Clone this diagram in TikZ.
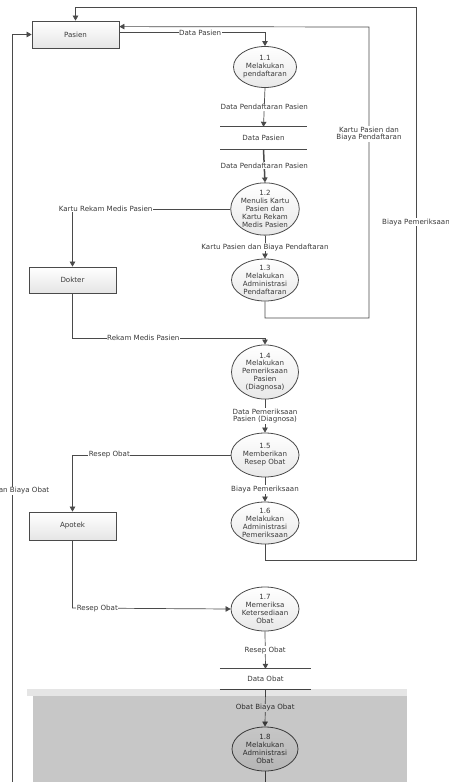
\documentclass[tikz,border=0pt]{standalone}
\usepackage{fontspec}
\setmainfont{DejaVu Sans}
\usetikzlibrary{arrows.meta,shapes.geometric,calc}
\definecolor{ln}{HTML}{4A4A4A}
\definecolor{tx}{HTML}{3A3A3A}
\tikzset{
  every node/.style={font=\fontsize{7.1}{7.9}\selectfont, text=tx},
  entbox/.style={draw=ln, line width=0.8pt, rectangle, top color=white, bottom color=black!10, minimum width=87pt, minimum height=27pt, inner sep=0pt},
  proc/.style={draw=ln, line width=0.8pt, ellipse, top color=white, bottom color=black!9, minimum width=67pt, minimum height=43pt, inner sep=0pt, align=center},
  store/.style={minimum width=86pt, minimum height=22pt, inner sep=0pt},
  flow/.style={draw=ln, line width=0.7pt, -{Triangle[length=5pt,width=5.5pt]}},
  lbl/.style={fill=white, inner sep=0.6pt, align=center}
}
\begin{document}
\begin{tikzpicture}[x=1pt,y=-1pt]
\useasboundingbox (0,0) rectangle (448,782);
\fill[white] (0,0) rectangle (448,782);
% entities
\node[entbox] (pasien) at (75.5,34.5) {Pasien};
\node[entbox, minimum height=26pt] (dokter) at (72.5,280) {Dokter};
\node[entbox, minimum height=28pt] (apotek) at (72.5,526) {Apotek};
% processes
\node[proc, minimum width=63pt, minimum height=41pt] (p11) at (265,67) {1.1\\Melakukan\\pendaftaran};
\node[proc, minimum width=68pt, minimum height=46pt] (p12) at (265,209) {1.2\\Menulis Kartu\\Pasien dan\\Kartu Rekam\\Medis Pasien};
\node[proc, minimum height=42pt] (p13) at (265,280) {1.3\\Melakukan\\Administrasi\\Pendaftaran};
\node[proc, minimum height=46pt] (p14) at (265,372) {1.4\\Melakukan\\Pemeriksaan\\Pasien\\(Diagnosa)};
\node[proc, minimum width=68pt, minimum height=44pt] (p15) at (265,455) {1.5\\Memberikan\\Resep Obat};
\node[proc, minimum width=68pt, minimum height=42pt] (p16) at (265,523) {1.6\\Melakukan\\Administrasi\\Pemeriksaan};
\node[proc, minimum width=68pt, minimum height=44pt] (p17) at (265,609) {1.7\\Memeriksa\\Ketersediaan\\Obat};
\node[proc, minimum width=66pt, minimum height=44pt] (p18) at (265,749) {1.8\\Melakukan\\Administrasi\\Obat};
% data stores
\node[store] (ds1) at (263.5,138) {Data Pasien};
\draw[ln, line width=0.9pt] (ds1.north west) -- (ds1.north east) (ds1.south west) -- (ds1.south east);
\node[store, minimum width=91pt, minimum height=20pt] (ds2) at (265.5,679) {Data Obat};
\draw[ln, line width=0.9pt] (ds2.north west) -- (ds2.north east) (ds2.south west) -- (ds2.south east);
% helper coordinates
\coordinate (lx) at (12,0);
\coordinate (pin) at ($(pasien.north east)+(0,6)$);
\coordinate (pout) at ($(pasien.north east)+(0,12)$);
% flows
\draw[flow] (pout) -- node[lbl,pos=0.555]{Data Pasien} (pout -| p11.north) -- (p11.north);
\draw[flow] (p11.south) -- node[lbl]{Data Pendaftaran Pasien} (ds1.north);
\draw[flow, line width=1.5pt] (ds1.south) -- node[lbl]{Data Pendaftaran Pasien} (p12.north);
\draw[flow] (p12.south) -- node[lbl]{Kartu Pasien dan Biaya Pendaftaran} (p13.north);
\draw[flow] (p12.west) -- node[lbl,pos=0.79]{Kartu Rekam Medis Pasien} (p12.west -| dokter.north) -- (dokter.north);
\draw[flow] (p13.south) -- (265,318) -- (369,318) -- node[lbl,pos=0.632]{Kartu Pasien dan\\Biaya Pendaftaran} (369,27) -- (pin);
\draw[flow] (dokter.south) -- (72.5,338) -- node[lbl,pos=0.368]{Rekam Medis Pasien} (265,338) -- (p14.north);
\draw[flow] (p14.south) -- node[lbl]{Data Pemeriksaan\\Pasien (Diagnosa)} (p15.north);
\draw[flow] (p15.west) -- node[lbl,pos=0.767]{Resep Obat} (p15.west -| apotek.north) -- (apotek.north);
\draw[flow] (p15.south) -- node[lbl]{Biaya Pemeriksaan} (p16.north);
\draw[flow] (p16.south) -- (265,560) -- (416,560) -- node[lbl,pos=0.611]{Biaya Pemeriksaan} (416,7) -- (75.5,7) -- (pasien.north);
\draw[flow] (apotek.south) -- (72.5,608) -- node[lbl,pos=0.157]{Resep Obat} (p17.west);
\draw[flow] (p17.south) -- node[lbl]{Resep Obat} (ds2.north);
\draw[flow] (ds2.south) -- node[lbl]{Obat Biaya Obat} (p18.north);
\draw[flow] (p18.south) -- (265,800) -- (12,800) -- node[lbl,pos=0.404]{Obat dan Biaya Obat} (pasien.west -| lx) -- (pasien.west);
% scanned grey area
\fill[black, fill opacity=0.10] (27,689) rectangle (407,696);
\fill[black, fill opacity=0.22] (33,696) rectangle (407,782);
\end{tikzpicture}
\end{document}
